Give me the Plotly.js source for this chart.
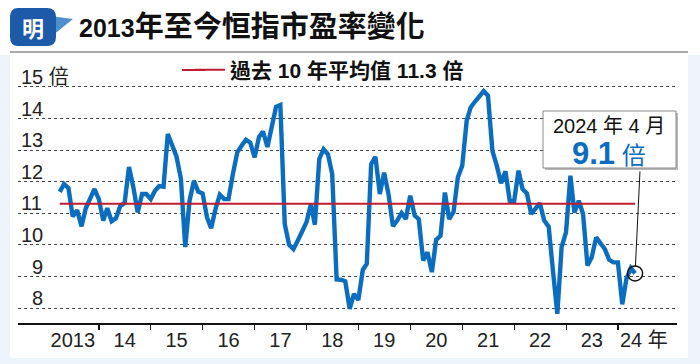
<!DOCTYPE html>
<html><head><meta charset="utf-8">
<script src="https://cdn.plot.ly/plotly-3.0.1.min.js"></script>
<style>html,body{margin:0;padding:0;background:#fff;}#chart{width:700px;height:364px;}</style>
</head><body><div id="chart"></div>
<script>
// ---- data ----
const startYear = 2013, startMonth = 3; // March 2013 (month-end values)
const peValues = [
 11.68,11.93,11.8,10.9,11.1,10.59,11.16,11.48,11.77,11.45,
 10.77,11.16,10.75,10.84,11.24,11.32,12.47,11.82,11.03,11.61,
 11.61,11.45,11.72,11.86,11.84,13.51,13.1,12.8,12.1,9.93,
 11.4,12.03,11.69,11.63,10.87,10.53,11.14,11.59,11.45,11.45,
 12.24,12.93,13.14,13.33,13.24,12.77,13.42,13.59,13.1,13.72,
 14.37,14.43,10.66,10.0,9.87,10.14,10.4,10.72,11.29,10.64,
 12.72,13.03,12.87,12.24,8.91,8.9,8.85,7.98,8.45,8.26,
 9.21,9.4,12.56,12.79,11.61,12.29,11.61,10.59,10.77,11.01,
 10.82,11.56,10.93,10.82,9.51,9.77,9.14,10.16,10.29,11.66,
 10.82,11.05,12.14,12.51,13.93,14.35,14.54,14.68,14.87,14.72,
 12.98,12.51,11.95,12.33,11.4,11.38,12.35,11.77,11.63,10.98,
 11.14,11.32,10.77,10.58,9.19,7.82,9.93,10.4,12.19,11.03,
 11.4,10.98,9.35,9.61,10.24,10.03,9.87,9.53,9.45,9.45,
 8.12,8.93,9.27,9.1
];
const avgValue = 11.3;
const avgLabel = '過去 10 年平均值 11.3 倍';
const yTickVals = [8,9,10,11,12,13,14,15];
const yTickText = ['\u20078','\u20079','10','11','12','13','14','15 倍'];
const xTickYears = [2013,2014,2015,2016,2017,2018,2019,2020,2021,2022,2023,2024];
const xTickText = ['2013','14','15','16','17','18','19','20','21','22','23','24 年'];
const titleYear = '2013';
const titleRest = '年至今恒指市盈率變化';
const calloutDate = '2024 年 4 月';
const calloutValue = '9.1';

// month-end dates
function pad(n){return (n<10?'0':'')+n;}
const dates = peValues.map((_,i)=>{
  const d = new Date(Date.UTC(startYear, startMonth-1+i+1, 0));
  return d.getUTCFullYear()+'-'+pad(d.getUTCMonth()+1)+'-'+pad(d.getUTCDate());
});
const lastDate = dates[dates.length-1], lastVal = peValues[peValues.length-1];

// ---- geometry helpers (pixel -> paper) ----
const L=18, T=78, W=659, H=245;
const px=x=>(x-L)/W, py=y=>(T+H-y)/H;

const FONT = 'Liberation Sans, Arial, Noto Sans CJK TC, sans-serif';
const BLUE = '#0b6dbf', RED = '#c01b30';

const traces = [
 {x:dates, y:peValues, type:'scatter', mode:'lines', line:{color:BLUE, width:4.4}, showlegend:false, hoverinfo:'skip'},
 {x:[dates[0], lastDate], y:[avgValue, avgValue], type:'scatter', mode:'lines', line:{color:RED, width:2}, name:avgLabel, showlegend:true, hoverinfo:'skip'},
 {x:[lastDate], y:[lastVal], xaxis:'x2', type:'scatter', mode:'markers', marker:{symbol:'circle-open', size:15, color:'#111', line:{color:'#111', width:1.5}}, showlegend:false, hoverinfo:'skip'}
];

const shapes = [
 // outer light frame
 {type:'rect', xref:'paper', yref:'paper', x0:px(0), x1:px(10), y0:py(364), y1:py(55), fillcolor:'#eef4fb', line:{width:0}, layer:'below'},
 {type:'rect', xref:'paper', yref:'paper', x0:px(688), x1:px(700), y0:py(364), y1:py(55), fillcolor:'#eef4fb', line:{width:0}, layer:'below'},
 {type:'rect', xref:'paper', yref:'paper', x0:px(0), x1:px(700), y0:py(364), y1:py(358), fillcolor:'#eef4fb', line:{width:0}, layer:'below'},
 // title underline
 {type:'line', xref:'paper', yref:'paper', x0:px(10), x1:px(688), y0:py(52), y1:py(52), line:{color:'#8c8c8c', width:1.5}},
 // logo bubble tail
 {type:'path', xref:'paper', yref:'paper', path:'M'+px(50)+','+py(16)+' L'+px(73)+','+py(19)+' L'+px(52)+','+py(36)+' Z', fillcolor:'#4f8fd0', line:{width:0}},
 // logo bubble
 {type:'path', xref:'paper', yref:'paper',
  path:'M'+px(18)+','+py(8)+' L'+px(47)+','+py(8)+' Q'+px(56)+','+py(8)+' '+px(56)+','+py(17)+' L'+px(56)+','+py(37)+' Q'+px(56)+','+py(46)+' '+px(47)+','+py(46)+' L'+px(18)+','+py(46)+' Q'+px(10)+','+py(46)+' '+px(10)+','+py(37)+' L'+px(10)+','+py(17)+' Q'+px(10)+','+py(8)+' '+px(18)+','+py(8)+' Z',
  fillcolor:'#1d5aa8', line:{width:0}},
 // legend sample extension
 {type:'line', xref:'paper', yref:'paper', x0:px(182), x1:px(205), y0:py(70), y1:py(70), line:{color:RED, width:2}},
 // callout box shadow + box
 {type:'rect', xref:'paper', yref:'paper', x0:px(545), x1:px(678), y0:py(170), y1:py(113), fillcolor:'#b8b8b8', line:{width:0}},
 {type:'rect', xref:'paper', yref:'paper', x0:px(543), x1:px(676), y0:py(168), y1:py(111), fillcolor:'#fff', line:{color:'#8a8a8a', width:1}}
];

const annotations = [
 {xref:'paper', yref:'paper', x:px(33), y:py(27), text:'<b>明</b>', showarrow:false, font:{family:'Noto Sans CJK TC', size:22, color:'#fff'}, xanchor:'center', yanchor:'middle'},
 // connector line
 {x:lastDate, y:lastVal, xref:'x', yref:'y', text:' ', showarrow:true, ax:5, ay:-104, arrowhead:0, arrowwidth:1, arrowcolor:'#111', standoff:7, font:{size:1}},
 // callout texts
 {xref:'paper', yref:'paper', x:px(609), y:py(126), xanchor:'center', yanchor:'middle', showarrow:false,
  text:calloutDate, font:{family:FONT, size:20, color:'#111'}},
 {xref:'paper', yref:'paper', x:px(609), y:py(153), xanchor:'center', yanchor:'middle', showarrow:false,
  text:'<b style="font-size:31px">'+calloutValue+'</b><span style="font-size:24px"> 倍</span>', font:{family:FONT, size:24, color:BLUE}}
];

const layout = {
 width:700, height:364,
 margin:{l:L, r:700-L-W, t:T, b:364-T-H, pad:0},
 paper_bgcolor:'#fff', plot_bgcolor:'rgba(0,0,0,0)',
 font:{family:FONT, size:20, color:'#222'},
 title:{text:'<b><span style="font-size:25px">'+titleYear+'</span>'+titleRest+'</b>', xref:'container', yref:'container', x:79/700, xanchor:'left', y:1-27/364, yanchor:'middle', font:{family:'Liberation Sans, Noto Sans CJK TC, sans-serif', size:29, color:'#111'}},
 showlegend:true,
 legend:{x:px(190), y:py(70), xanchor:'left', yanchor:'middle', orientation:'h', bgcolor:'rgba(0,0,0,0)', font:{family:'Liberation Sans, Noto Sans CJK TC, sans-serif', size:21, color:'#111', weight:'bold'}},
 xaxis:{type:'date', range:['2012-06-10','2025-02-19'], tickvals:xTickYears.slice(1).map(y=>y+'-01-01'), ticks:'outside', ticklen:5, tickwidth:1.2, tickcolor:'#111', showticklabels:false, showline:true, linecolor:'#111', linewidth:1.5, showgrid:false, zeroline:false, fixedrange:true},
 xaxis2:{type:'date', overlaying:'x', matches:'x', anchor:'y', side:'bottom', tickvals:xTickYears.map(y=>y+'-07-01'), ticktext:xTickText, ticks:'', showline:false, showgrid:false, zeroline:false, tickfont:{size:20, color:'#222'}, ticklabelstandoff:3},
 yaxis:{range:[7.53, 15.283], tickvals:yTickVals, ticktext:yTickText, ticks:'', ticklabelposition:'inside', ticklabeloverflow:'allow', ticklabelshift:-10, ticklabelstandoff:0, showgrid:true, gridcolor:'#444', griddash:'dot', gridwidth:1, zeroline:false, showline:false, tickfont:{size:20, color:'#222'}, fixedrange:true},
 shapes:shapes, annotations:annotations
};
Plotly.newPlot('chart', traces, layout, {displayModeBar:false, staticPlot:true});
</script></body></html>
